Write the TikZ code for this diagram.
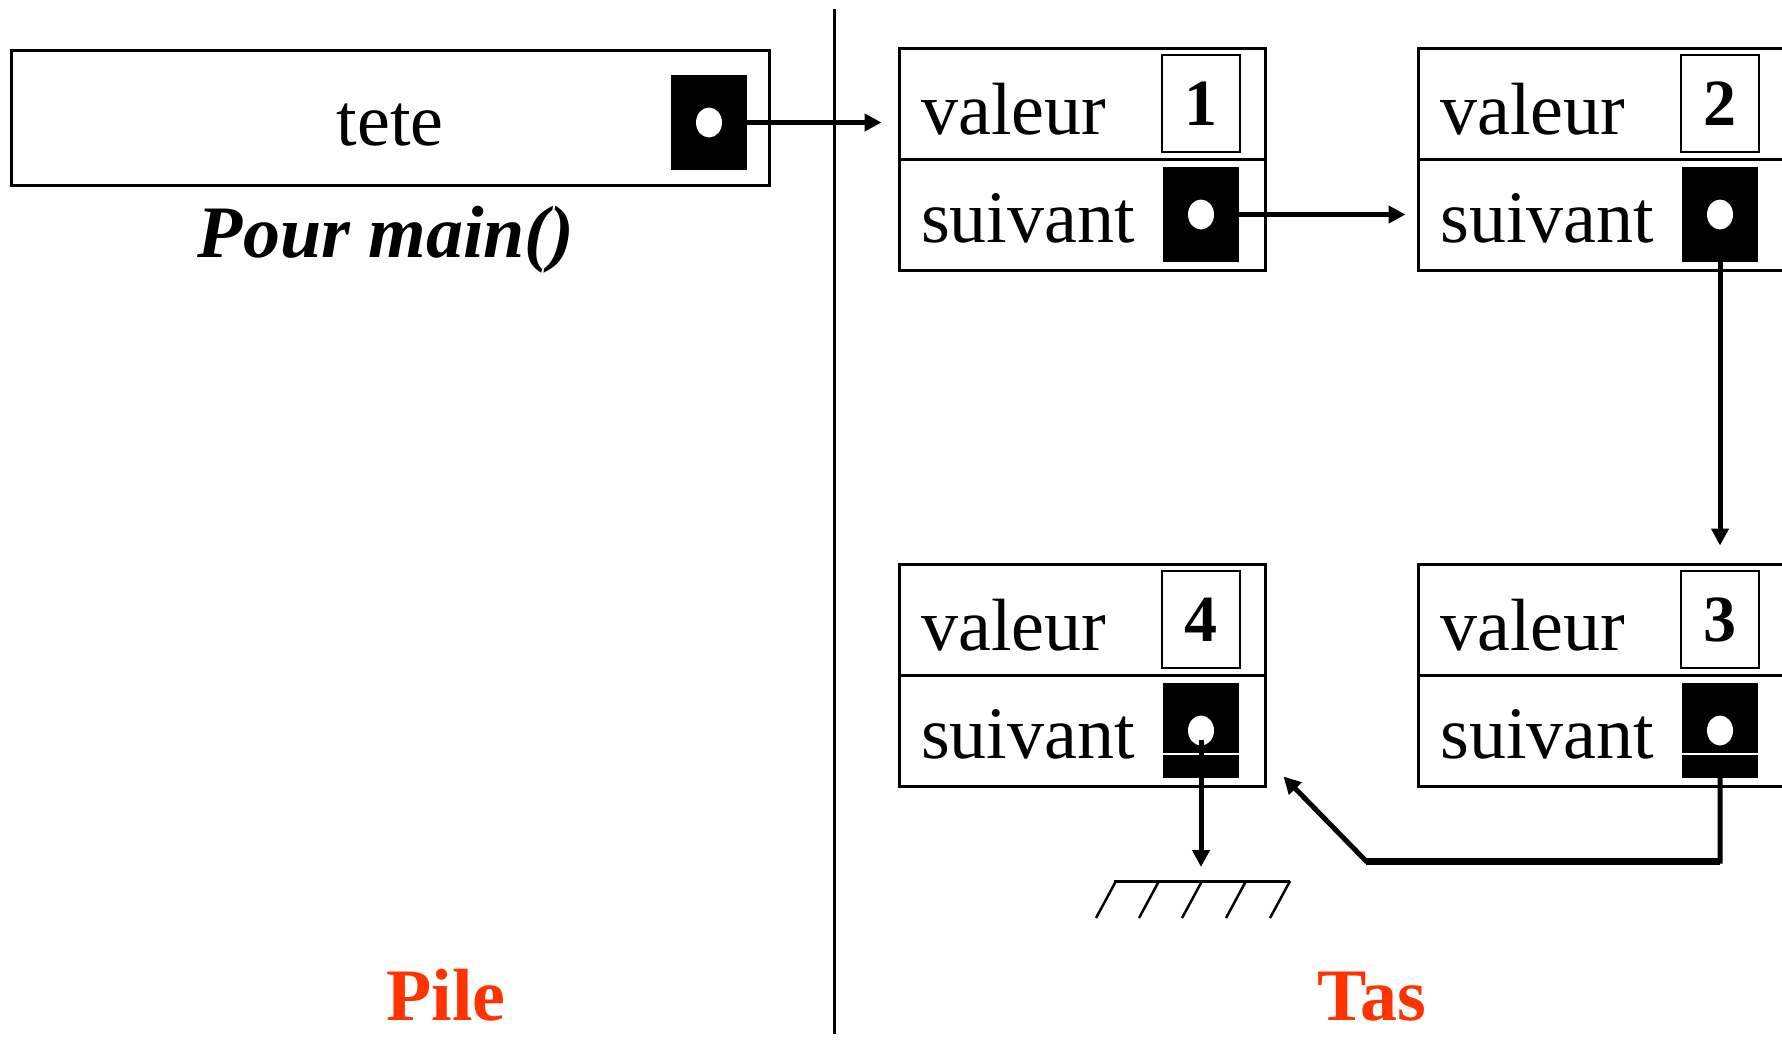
\documentclass[tikz,border=0pt]{standalone}
\usepackage{fontspec}
\setmainfont{Liberation Serif}
\usetikzlibrary{arrows.meta,calc,shapes.geometric}
\definecolor{labelred}{RGB}{255,51,0}
\begin{document}
\begin{tikzpicture}[x=1pt,y=-1pt,
  cell/.style={draw, line width=3pt, minimum width=366pt, minimum height=222pt, inner sep=0pt},
  rowline/.style={line width=3pt},
  valbox/.style={draw, line width=2.5pt, minimum width=78pt, minimum height=97pt, inner sep=0pt,
    font=\fontsize{66pt}{70pt}\selectfont\bfseries},
  ptrbox/.style={fill=black, minimum width=76pt, minimum height=95pt, inner sep=0pt},
  dot/.style={fill=white, ellipse, minimum width=26pt, minimum height=30pt, inner sep=0pt},
  fieldlabel/.style={anchor=base west, inner sep=0pt, font=\fontsize{74pt}{80pt}\selectfont},
  bigtext/.style={anchor=base, inner sep=0pt, font=\fontsize{74pt}{80pt}\selectfont},
  title/.style={anchor=base, inner sep=0pt, text=labelred, font=\fontsize{74pt}{80pt}\selectfont\bfseries},
  link/.style={line width=5pt, -{Triangle[length=17pt, width=17pt]}},
  notch/.style={draw=white, line width=2pt},
]
\useasboundingbox (0,0) rectangle (1782,1039);

% stack side: the local variable tete
\node[draw, line width=3pt, minimum width=758pt, minimum height=135pt, inner sep=0pt] (tetebox) at (390,117.5) {};
\node[bigtext] (tetelabel) at (390,145) {tete};
\node[ptrbox] (ptr0) at (709,122.5) {};
\node[dot] (dot0) at (ptr0.center) {};
\node[bigtext, font=\fontsize{74pt}{80pt}\selectfont\bfseries\itshape] (scope) at (386,257) {Pour main()};

% separator between stack and heap
\coordinate (septop) at (834,9);
\coordinate (sepbot) at (834,1034);
\draw[line width=3pt] (septop) -- (sepbot);

% heap side: four list cells
\foreach \n/\cx/\cy in {1/1082/159, 2/1601/159, 3/1601/675, 4/1082/675}{
  \node[cell] (cell\n) at (\cx,\cy) {};
  \draw[rowline] (cell\n.west) -- (cell\n.east);
  \node[valbox] (val\n) at (\cx+119,\cy-55.5) {\n};
  \node[ptrbox] (ptr\n) at (\cx+119,\cy+55.5) {};
  \node[fieldlabel] (lv\n) at (\cx-161,\cy-25) {valeur};
  \node[fieldlabel] (ls\n) at (\cx-161,\cy+83) {suivant};
  \node[dot] (dot\n) at (ptr\n.center) {};
}
\draw[notch] ($(ptr3.west)+(0,23.5)$) -- ($(ptr3.east)+(0,23.5)$);
\draw[notch] ($(ptr4.west)+(0,23.5)$) -- ($(ptr4.east)+(0,23.5)$);

% null marker under the last cell
\coordinate (groundL) at (1114,881);
\coordinate (groundR) at (1290,881);
\draw[line width=3pt] (groundL) -- (groundR);
\foreach \hx in {1116,1159,1202,1246,1290}{
  \draw[line width=2.5pt] (\hx,881) -- (\hx-20,918);
}

% pointers
\draw[link, shorten >=16pt] (ptr0.east) -- (ptr0.east -| cell1.west);
\draw[link, shorten <=-8pt, shorten >=11pt] (ptr1.east) -- (ptr1.east -| cell2.west);
\draw[link, shorten >=17pt] (ptr2.south) -- (ptr2.south |- cell3.north);
\coordinate (bend) at (1366,861);
\draw[link] (ptr3.south) |- (bend) -- ($(cell4.south east)+(17,-11)$);
\draw[line width=7pt] (ptr3.south |- bend) -- (bend);
\draw[link, shorten >=14pt] ($(dot4.center)+(0,9)$) -- (dot4.center |- groundL);

% region titles
\node[title] (pile) at (446,1020) {Pile};
\node[title] (tas) at (1372,1020) {Tas};
\end{tikzpicture}
\end{document}
